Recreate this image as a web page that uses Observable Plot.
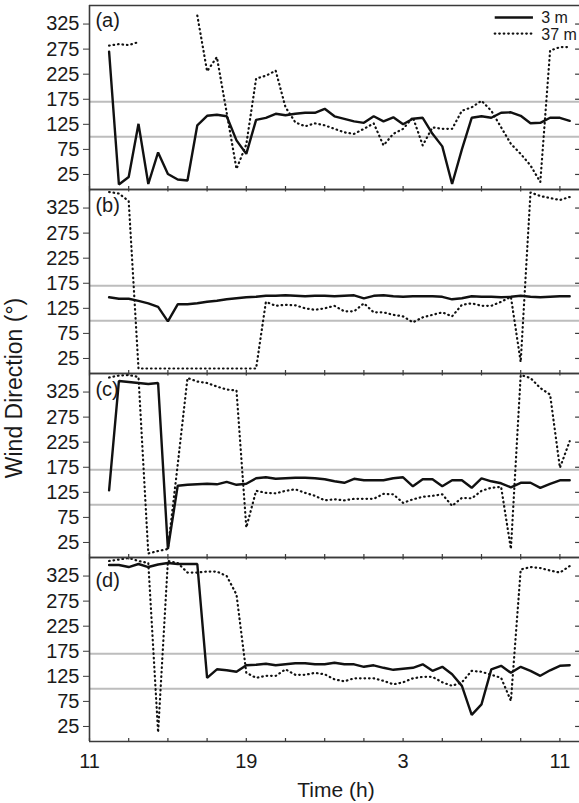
<!DOCTYPE html>
<html>
<head>
<meta charset="utf-8">
<script src="https://cdn.jsdelivr.net/npm/d3@7"></script>
<script src="https://cdn.jsdelivr.net/npm/@observablehq/plot@0.6"></script>
<style>
  html, body { margin: 0; padding: 0; background: #fff; }
  #chart { width: 579px; height: 803px; }
  svg { display: block; }
</style>
</head>
<body>
<div id="chart"></div>
<script>
// ---------------- data ----------------
const panels = ["a", "b", "c", "d"];
const seriesNames = ["3 m", "37 m"];
// hours elapsed since 11:00 (half-hourly samples)
const hours = [1, 1.5, 2, 2.5, 3, 3.5, 4, 4.5, 5, 5.5,
               6, 6.5, 7, 7.5, 8, 8.5, 9, 9.5, 10, 10.5,
               11, 11.5, 12, 12.5, 13, 13.5, 14, 14.5, 15, 15.5,
               16, 16.5, 17, 17.5, 18, 18.5, 19, 19.5, 20, 20.5,
               21, 21.5, 22, 22.5, 23, 23.5, 24, 24.5];

const dir3m_a = [270, 5, 20, 126, 6, 69, 26, 15, 13, 123,
                 142, 144, 141, 93, 66, 134, 138, 146, 143, 146,
                 148, 148, 156, 141, 136, 131, 128, 141, 131, 139,
                 125, 136, 138, 106, 81, 6, 75, 138, 141, 138,
                 148, 149, 142, 127, 128, 138, 138, 132];
const dir37m_a = [282, 285, 283, 289, null, null, null, null, null, 342,
                  231, 259, 148, 36, 85, 216, 222, 232, 159, 129,
                  121, 127, 123, 116, 109, 106, 116, 127, 83, 106,
                  116, 139, 83, 119, 116, 116, 152, 159, 172, 152,
                  119, 86, 66, 43, 10, 272, 279, 279];

const dir3m_b = [147, 144, 144, 140, 135, 128, 99, 133, 133, 135,
                 138, 140, 143, 145, 147, 148, 150, 150, 151, 150,
                 149, 150, 150, 149, 150, 151, 145, 150, 151, 149,
                 148, 149, 149, 149, 148, 143, 145, 149, 148, 148,
                 147, 148, 150, 148, 147, 148, 149, 149];
const dir37m_b = [357, 354, 339, 5, 5, 5, 5, 5, 5, 5,
                  5, 5, 5, 5, 5, 5, 138, 130, 132, 131,
                  125, 122, 125, 130, 119, 119, 135, 117, 117, 112,
                  109, 97, 107, 112, 117, 109, 132, 135, 130, 130,
                  138, 148, 18, 356, 349, 345, 341, 347];

const dir3m_c = [129, 347, 345, 343, 341, 343, 12, 138, 140, 141,
                 142, 141, 146, 140, 142, 153, 155, 152, 153, 154,
                 154, 153, 151, 147, 144, 152, 149, 149, 149, 153,
                 155, 137, 151, 151, 137, 149, 149, 134, 153, 147,
                 143, 135, 144, 144, 134, 142, 149, 149];
const dir37m_c = [354, 358, 359, 355, 3, 8, 12, 180, 353, 346,
                  343, 336, 330, 328, 55, 128, 124, 123, 128, 131,
                  124, 118, 109, 111, 109, 112, 112, 112, 122, 121,
                  104, 111, 116, 118, 121, 98, 114, 113, 128, 134,
                  136, 12, 359, 353, 333, 320, 174, 227];

const dir3m_d = [347, 347, 343, 349, 343, 348, 351, 349, 349, 349,
                 122, 139, 137, 134, 147, 148, 150, 147, 149, 151,
                 151, 149, 149, 152, 149, 149, 144, 147, 142, 138,
                 140, 142, 149, 136, 144, 129, 106, 48, 69, 139,
                 146, 132, 144, 136, 126, 137, 146, 147];
const dir37m_d = [355, 358, 361, 355, 351, 13, 355, 351, 332, 332,
                  334, 334, 325, 288, 132, 122, 126, 126, 139, 128,
                  128, 132, 129, 119, 115, 121, 121, 121, 116, 109,
                  113, 121, 124, 124, 113, 106, 113, 136, 134, 128,
                  122, 76, 338, 343, 341, 336, 332, 345];

const yTicks = [25, 75, 125, 175, 225, 275, 325];
const xMinorTicks = [0, 2, 4, 6, 8, 10, 12, 14, 16, 18, 20, 22, 24];
const xLabelTicks = [0, 8, 16, 24];
const xTickLabels = ["11", "19", "3", "11"];
const refLines = [100, 170];

// ---------------- tables built from the arrays ----------------
const seriesByPanel = {
  a: [dir3m_a, dir37m_a], b: [dir3m_b, dir37m_b],
  c: [dir3m_c, dir37m_c], d: [dir3m_d, dir37m_d]
};
const rows = [];
for (const p of panels) {
  seriesByPanel[p].forEach((vals, si) => {
    vals.forEach((v, i) => rows.push({panel: p, series: seriesNames[si], t: hours[i], v}));
  });
}

// layout options (positions kept out of the data arrays)
const layout = {
  yDomain: [-5, 362], xDomain: [0, 25],
  legend: {x1: 20.7, x2: 22.65, xText: 23.05, y: [338, 306], yText: [337, 304]},
  labelX: 0.3, labelY: {a: 331, b: 330, c: 330, d: 316}
};
const legendRows = seriesNames.map((s, i) => ({panel: "a", series: s, y: layout.legend.y[i], yText: layout.legend.yText[i]}));
const panelLabelRows = panels.map(p => ({panel: p, text: `(${p})`, y: layout.labelY[p]}));
const innerTopTicks = panels.slice(1).flatMap(p => xMinorTicks.map(x => ({panel: p, x})));

const FONT = "'Liberation Sans', Arial, Helvetica, sans-serif";
const INK = "#111";
const AXIS = "#3a3a3a";
const DOTS = "0.6,3.9";

const chart = Plot.plot({
  width: 579,
  height: 803,
  marginLeft: 89,
  marginRight: 0,
  marginTop: 5,
  marginBottom: 62,
  style: {fontFamily: FONT, fontSize: "20px", background: "white", color: "#1a1a1a", overflow: "visible"},
  x: {domain: layout.xDomain, axis: null},
  y: {domain: layout.yDomain, axis: null},
  fy: {domain: panels, padding: 0, axis: null},
  marks: [
    Plot.ruleY(refLines, {stroke: "#bdbdbd", strokeWidth: 2}),
    Plot.line(rows, {filter: d => d.series === "37 m", x: "t", y: "v", fy: "panel",
      stroke: INK, strokeWidth: 2.2, strokeDasharray: DOTS, strokeLinecap: "round", clip: true}),
    Plot.line(rows, {filter: d => d.series === "3 m", x: "t", y: "v", fy: "panel",
      stroke: INK, strokeWidth: 2.4, strokeLinejoin: "miter", clip: true}),
    // frame pieces
    Plot.ruleX([0], {stroke: AXIS, strokeWidth: 1.6}),
    Plot.ruleY([layout.yDomain[0], layout.yDomain[1]], {stroke: AXIS, strokeWidth: 1.6}),
    // x ticks on each panel's bottom (pointing up) and top of lower panels
    Plot.ruleX(xMinorTicks, {x: d => d, y1: layout.yDomain[0], y2: layout.yDomain[0] + 6, stroke: AXIS, strokeWidth: 1.2}),
    Plot.ruleX(innerTopTicks, {x: "x", fy: "panel", y1: layout.yDomain[1] - 5, y2: layout.yDomain[1], stroke: AXIS, strokeWidth: 1.2}),
    // inner ticks on the right edge
    Plot.ruleY(yTicks, {y: d => d, x1: 24.8, x2: 25, stroke: AXIS, strokeWidth: 1.2}),
    // axes
    Plot.axisY(yTicks, {tickSize: 6, tickPadding: 4, label: null, stroke: AXIS, fontSize: 20}),
    Plot.axisX(xLabelTicks, {tickSize: 0, tickPadding: 12, label: null, fontSize: 20,
      tickFormat: d => xTickLabels[xLabelTicks.indexOf(d)]}),
    // panel labels
    Plot.text(panelLabelRows, {fy: "panel", x: layout.labelX, y: "y", text: "text",
      textAnchor: "start", fontSize: 20, fill: "#1a1a1a"}),
    // legend
    Plot.ruleY(legendRows, {filter: d => d.series === "3 m", fy: "panel", y: "y",
      x1: layout.legend.x1, x2: layout.legend.x2, stroke: INK, strokeWidth: 2.4}),
    Plot.ruleY(legendRows, {filter: d => d.series === "37 m", fy: "panel", y: "y",
      x1: layout.legend.x1, x2: layout.legend.x2, stroke: INK, strokeWidth: 2.2,
      strokeDasharray: DOTS, strokeLinecap: "round"}),
    Plot.text(legendRows, {fy: "panel", x: layout.legend.xText, y: "yText", text: "series",
      textAnchor: "start", fontSize: 16, fill: "#1a1a1a"})
  ]
});

document.getElementById("chart").appendChild(chart);

// axis titles
const svg = d3.select(chart.tagName.toLowerCase() === "svg" ? chart : chart.querySelector("svg"));
svg.append("text")
  .attr("transform", "translate(22,388) rotate(-90)")
  .attr("text-anchor", "middle")
  .attr("font-family", FONT)
  .attr("font-size", 23)
  .attr("fill", "#1a1a1a")
  .text("Wind Direction (°)");
svg.append("text")
  .attr("x", 336)
  .attr("y", 797)
  .attr("text-anchor", "middle")
  .attr("font-family", FONT)
  .attr("font-size", 21)
  .attr("fill", "#1a1a1a")
  .text("Time (h)");
</script>
</body>
</html>
